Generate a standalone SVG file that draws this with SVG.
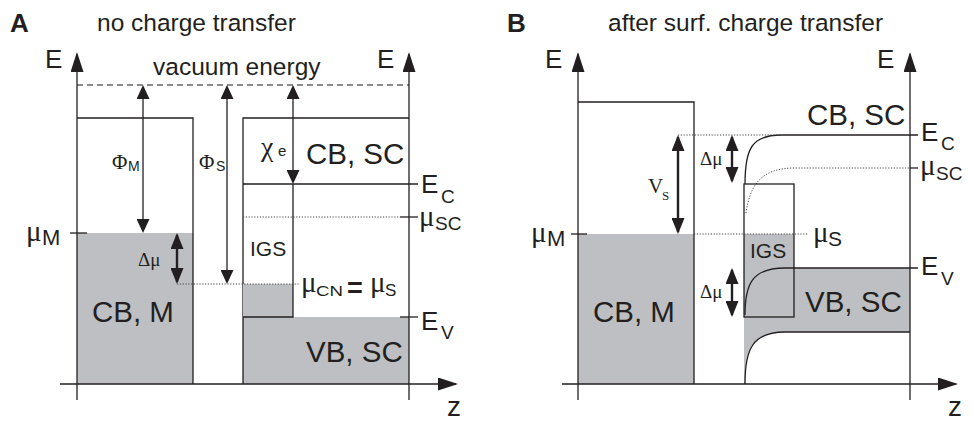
<svg xmlns="http://www.w3.org/2000/svg" width="971" height="421" viewBox="0 0 971 421">
<style>
.ln{stroke:#231f20;stroke-width:1.3;fill:none}
.thk{stroke:#231f20;stroke-width:2.4;fill:none}
.dot{stroke:#444;stroke-width:1;stroke-dasharray:1.2 1.6;fill:none}
.dash{stroke:#666;stroke-width:1.4;stroke-dasharray:6 4;fill:none}
.gr{fill:#bdbfc2;stroke:none}
.t{font-family:"Liberation Sans",Arial,sans-serif;fill:#231f20}
.g{font-family:"Liberation Serif","Times New Roman",serif;fill:#231f20}
.big{font-size:29.5px}
.hd{font-size:24.5px}
.lab{font-size:26px;font-weight:bold}
.ax{font-size:26px}
.mu{font-size:29px}
.sub{font-size:19px}
</style>
<defs>
<marker id="ah" viewBox="0 0 14 13" refX="12" refY="6.5" markerWidth="14" markerHeight="13" markerUnits="userSpaceOnUse" orient="auto-start-reverse"><path d="M0,0 L14,6.5 L0,13 Z" fill="#231f20"/></marker>
<marker id="ahk" viewBox="0 0 16 13" refX="14" refY="6.5" markerWidth="16" markerHeight="13" markerUnits="userSpaceOnUse" orient="auto-start-reverse"><path d="M0,0 L16,6.5 L0,13 Z" fill="#231f20"/></marker>
<marker id="axh" viewBox="0 0 20 13" refX="18" refY="6.5" markerWidth="20" markerHeight="13" markerUnits="userSpaceOnUse" orient="auto"><path d="M0,0 L20,6.5 L0,13 Z" fill="#231f20"/></marker>
</defs>
<rect width="971" height="421" fill="#ffffff"/>

<!-- ================= PANEL A ================= -->
<g id="titleA">
<text class="t lab" x="10" y="32">A</text>
<text class="t hd" x="97" y="31">no charge transfer</text>
</g>

<g id="metalA">
<rect class="gr" x="77" y="233" width="116" height="151"/>
<path class="ln" d="M77,118 H193 V384"/>
<text class="t big" x="92" y="322">CB, M</text>
</g>

<g id="scA">
<rect class="gr" x="243" y="317" width="166" height="67"/>
<path class="ln" d="M243,384 V118 H409"/>
<line class="ln" x1="243" y1="184" x2="418" y2="184"/>
<line class="dot" x1="243" y1="217" x2="400" y2="217"/>
<line class="ln" x1="400" y1="217" x2="418" y2="217"/>
<line class="ln" x1="400" y1="317" x2="418" y2="317"/>
<text class="t big" x="306" y="164">CB, SC</text>
<text class="t big" x="306" y="362">VB, SC</text>
<text class="t ax" x="421" y="193">E</text><text class="t sub" x="441" y="203">C</text>
<text class="g mu" x="419" y="226">μ</text><text class="t sub" x="435" y="230">SC</text>
<text class="t ax" x="421" y="330">E</text><text class="t sub" x="441" y="339">V</text>
</g>

<g id="igsA">
<rect class="gr" x="243" y="284" width="50" height="33"/>
<path class="ln" d="M243,317 H293 V184"/>
<text class="t" style="font-size:21px" x="250" y="256">IGS</text>
</g>

<g id="levelsA">
<line class="dash" x1="77" y1="85" x2="409" y2="85"/>
<text class="t hd" x="153" y="75">vacuum energy</text>
<line class="ln" x1="70" y1="233" x2="87" y2="233"/>
<text class="g mu" x="26" y="241">μ</text><text class="t" style="font-size:22px" x="42" y="245">M</text>
<line class="dot" x1="177" y1="284" x2="300" y2="284"/>
<text class="g mu" x="301" y="292">μ</text><text class="t" style="font-size:15px" x="316" y="296" textLength="27" lengthAdjust="spacingAndGlyphs">CN</text>
<text class="t" style="font-size:27px;font-weight:bold" x="347" y="297">=</text>
<text class="g mu" x="370" y="292">μ</text><text class="t" style="font-size:17px" x="385" y="296">S</text>
</g>

<g id="axesA">
<line class="ln" x1="77" y1="400" x2="77" y2="54" marker-end="url(#axh)"/>
<line class="ln" x1="409" y1="400" x2="409" y2="54" marker-end="url(#axh)"/>
<line class="ln" x1="60" y1="384" x2="456" y2="384" marker-end="url(#axh)"/>
<text class="t ax" x="45" y="68">E</text>
<text class="t ax" x="377" y="68">E</text>
<text class="t" style="font-size:28px" x="447" y="416">z</text>
</g>

<g id="connectorsA">
<line class="ln" x1="143" y1="87" x2="143" y2="231" marker-start="url(#ah)" marker-end="url(#ah)"/>
<line class="ln" x1="227" y1="87" x2="227" y2="282" marker-start="url(#ah)" marker-end="url(#ah)"/>
<line class="ln" x1="293" y1="87" x2="293" y2="182" marker-start="url(#ah)" marker-end="url(#ah)"/>
<line class="thk" x1="177" y1="235" x2="177" y2="282" marker-start="url(#ahk)" marker-end="url(#ahk)"/>
<text class="g" style="font-size:21px" x="112" y="169">Φ</text><text class="t" style="font-size:14px" x="128" y="171">M</text>
<text class="g" style="font-size:21px" x="199" y="169">Φ</text><text class="t" style="font-size:14px" x="216" y="171">S</text>
<text class="g" style="font-size:28px" x="261" y="156">χ</text><text class="t" style="font-size:15px" x="278" y="156">e</text>
<text class="g" style="font-size:19px" x="138" y="266">Δμ</text>
</g>

<!-- ================= PANEL B ================= -->
<g id="titleB">
<text class="t lab" x="507" y="32">B</text>
<text class="t hd" x="608" y="31">after surf. charge transfer</text>
</g>

<g id="metalB">
<rect class="gr" x="578" y="234" width="116" height="150"/>
<path class="ln" d="M578,102 H694 V384"/>
<text class="t big" x="593" y="322">CB, M</text>
</g>

<g id="scB">
<path class="gr" d="M744,268 H910 V332 H785 C752,332 745,350 745,384 H744 Z"/>
<rect class="gr" x="744" y="234" width="50" height="83"/>
<path class="ln" d="M745,184 C745,148 752,135 782,135 H918"/>
<path class="dot" d="M746,213 C750,186 760,168 795,168 H910"/>
<line class="ln" x1="910" y1="168" x2="918" y2="168"/>
<path class="ln" d="M745,315 C745,284 752,268 785,268 H918"/>
<path class="ln" d="M745,384 C745,350 752,332 785,332 H910"/>
<line class="dot" x1="678" y1="135" x2="780" y2="135"/>
<text class="t big" x="807" y="125">CB, SC</text>
<text class="t big" x="805" y="312">VB, SC</text>
<text class="t ax" x="921" y="141">E</text><text class="t sub" x="941" y="150">C</text>
<text class="g mu" x="920" y="175">μ</text><text class="t sub" x="936" y="180">SC</text>
<text class="t ax" x="921" y="275">E</text><text class="t sub" x="941" y="285">V</text>
</g>

<g id="igsB">
<rect class="ln" x="744" y="184" width="50" height="133"/>
<text class="t" style="font-size:21px" x="750" y="258">IGS</text>
</g>

<g id="levelsB">
<line class="ln" x1="571" y1="234" x2="587" y2="234"/>
<text class="g mu" x="531" y="242">μ</text><text class="t" style="font-size:22px" x="547" y="246">M</text>
<line class="dot" x1="694" y1="234" x2="808" y2="234"/>
<text class="g mu" x="813" y="242">μ</text><text class="t" style="font-size:21px" x="828" y="246">S</text>
</g>

<g id="axesB">
<line class="ln" x1="578" y1="400" x2="578" y2="54" marker-end="url(#axh)"/>
<line class="ln" x1="910" y1="400" x2="910" y2="54" marker-end="url(#axh)"/>
<line class="ln" x1="562" y1="384" x2="956" y2="384" marker-end="url(#axh)"/>
<text class="t ax" x="545" y="68">E</text>
<text class="t ax" x="877" y="68">E</text>
<text class="t" style="font-size:28px" x="948" y="416">z</text>
</g>

<g id="connectorsB">
<line class="thk" x1="678" y1="137" x2="678" y2="232" marker-start="url(#ahk)" marker-end="url(#ahk)"/>
<line class="thk" x1="732" y1="137" x2="732" y2="181" marker-start="url(#ahk)" marker-end="url(#ahk)"/>
<line class="thk" x1="732" y1="270" x2="732" y2="315" marker-start="url(#ahk)" marker-end="url(#ahk)"/>
<text class="g" style="font-size:21px" x="648" y="193">V</text><text class="g" style="font-size:13px" x="662" y="200">S</text>
<text class="g" style="font-size:19px" x="700" y="165">Δμ</text>
<text class="g" style="font-size:19px" x="700" y="298">Δμ</text>
</g>
</svg>
